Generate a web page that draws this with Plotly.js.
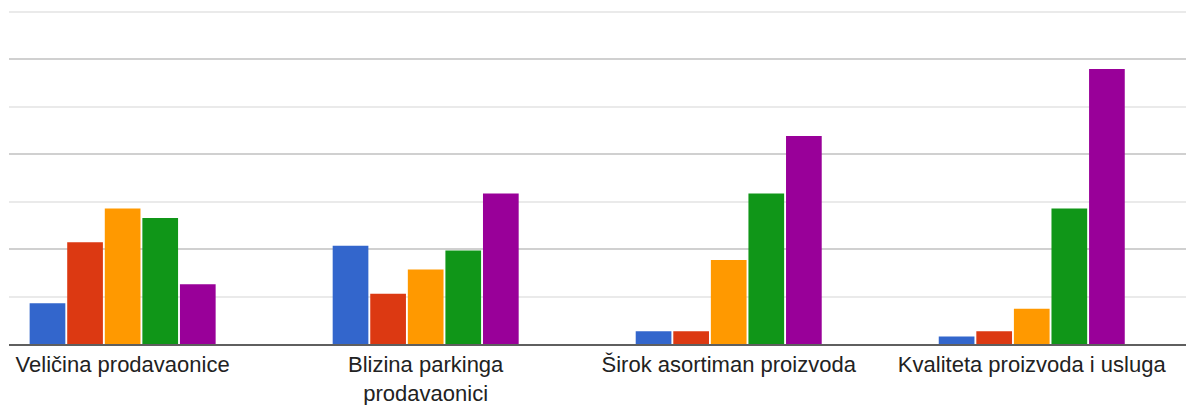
<!DOCTYPE html>
<html>
<head>
<meta charset="utf-8">
<script src="https://cdn.plot.ly/plotly-3.0.1.min.js"></script>
<style>html,body{margin:0;padding:0;background:#fff;}#chart{width:1186px;height:405px;}</style>
</head>
<body>
<div id="chart"></div>
<script>
const categories = ["Veličina prodavaonice", "Blizina parkinga<br>prodavaonici", "Širok asortiman proizvoda", "Kvaliteta proizvoda i usluga"];
const seriesNames = ["1", "2", "3", "4", "5"];
const seriesColors = ["#3366cc", "#dc3912", "#ff9900", "#109618", "#990099"];
const values1 = [6.0, 14.5, 1.9, 1.1];
const values2 = [15.0, 7.4, 1.9, 1.9];
const values3 = [20.0, 11.0, 12.4, 5.2];
const values4 = [18.6, 13.8, 22.2, 20.0];
const values5 = [8.8, 22.2, 30.7, 40.6];
const allValues = [values1, values2, values3, values4, values5];

const traces = allValues.map((v, i) => ({
  type: 'bar',
  name: seriesNames[i],
  x: categories,
  y: v,
  marker: {color: seriesColors[i]},
  hoverinfo: 'x+y+name'
}));

const layout = {
  width: 1186, height: 405,
  margin: {l: 9, r: 0, t: 10, b: 61},
  paper_bgcolor: '#ffffff', plot_bgcolor: '#ffffff',
  showlegend: false,
  barmode: 'group',
  bargap: 0.38,
  bargroupgap: 0.05,
  font: {family: 'Arial, "Liberation Sans", sans-serif', size: 22, color: '#222222'},
  xaxis: {
    type: 'category',
    range: [-0.375, 3.509],
    showgrid: false,
    showline: true, linecolor: '#5f5f5f', linewidth: 2,
    ticks: '', ticklen: 0,
    tickfont: {size: 22, color: '#222222'},
    fixedrange: true
  },
  yaxis: {
    range: [0, 49.29],
    dtick: 14, tick0: 0,
    showticklabels: false,
    showgrid: true, gridcolor: '#d0d0d0', gridwidth: 2,
    zeroline: false,
    minor: {dtick: 7, tick0: 0, showgrid: true, gridcolor: '#eaeaea', gridwidth: 2},
    fixedrange: true
  }
};

Plotly.newPlot('chart', traces, layout, {displayModeBar: false, staticPlot: true});
</script>
</body>
</html>
